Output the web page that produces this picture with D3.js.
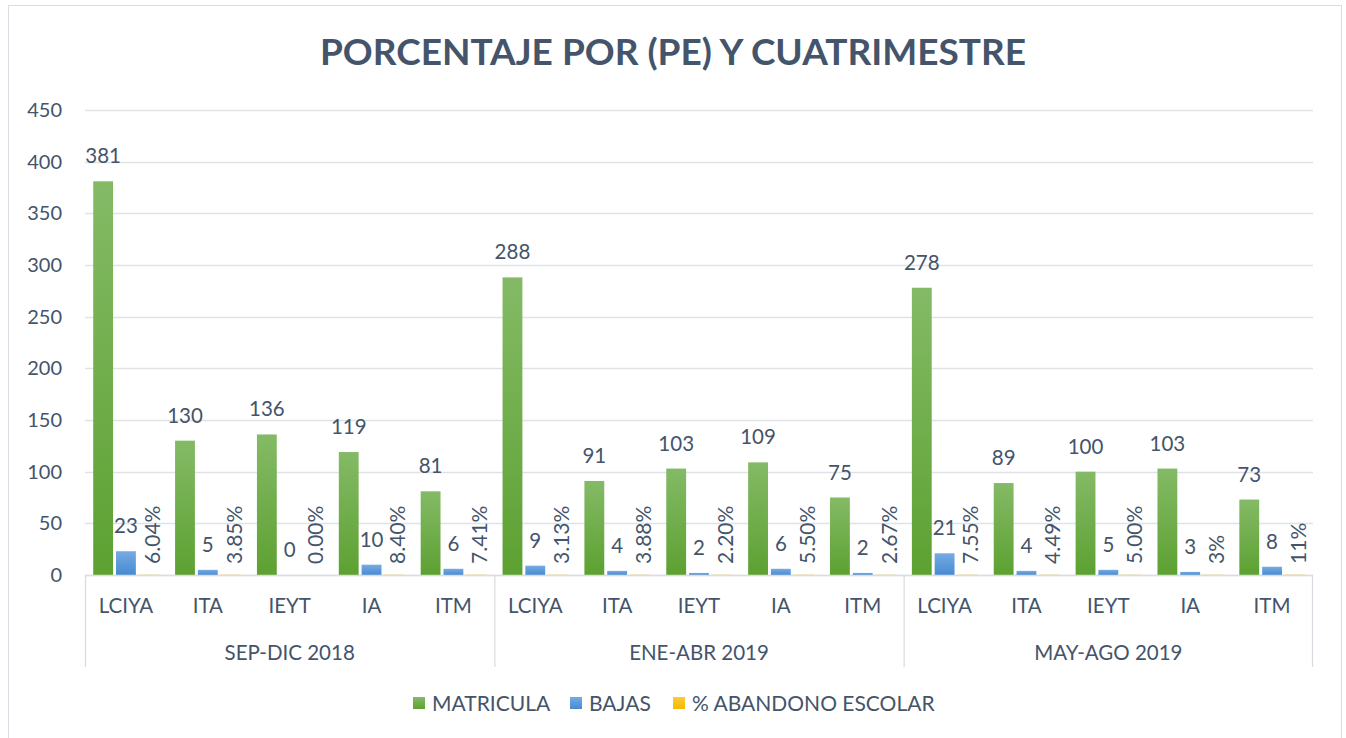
<!DOCTYPE html>
<html>
<head>
<meta charset="utf-8">
<script src="https://cdn.jsdelivr.net/npm/d3@7"></script>
<style>
  body { margin: 0; background: #fff; }
  svg text { font-family: Lato, "Open Sans", sans-serif; fill: #44546a; }
</style>
</head>
<body>
<div id="chart"></div>
<script>
// chart data
const periods = ["SEP-DIC 2018", "ENE-ABR 2019", "MAY-AGO 2019"];
const programs = ["LCIYA", "ITA", "IEYT", "IA", "ITM"];
const seriesNames = ["MATRICULA", "BAJAS", "% ABANDONO ESCOLAR"];
const matricula = [381, 130, 136, 119, 81, 288, 91, 103, 109, 75, 278, 89, 100, 103, 73];
const bajas = [23, 5, 0, 10, 6, 9, 4, 2, 6, 2, 21, 4, 5, 3, 8];
const abandono = [0.0604, 0.0385, 0, 0.084, 0.0741, 0.0313, 0.0388, 0.022, 0.055, 0.0267,
                  0.0755, 0.0449, 0.05, 0.03, 0.11];
const abandonoLabels = ["6.04%", "3.85%", "0.00%", "8.40%", "7.41%", "3.13%", "3.88%", "2.20%",
                        "5.50%", "2.67%", "7.55%", "4.49%", "5.00%", "3%", "11%"];
const yTicks = [0, 50, 100, 150, 200, 250, 300, 350, 400, 450];

const W = 1346, H = 738;
const margin = {top: 110, right: 33, bottom: 163, left: 85};
const width = W - margin.left - margin.right;
const height = H - margin.top - margin.bottom;

const svg = d3.select("#chart").append("svg")
    .attr("width", W)
    .attr("height", H);

const defs = svg.append("defs");
function addGrad(id, top, bottom) {
  const g = defs.append("linearGradient").attr("id", id)
      .attr("x1", 0).attr("y1", 0).attr("x2", 0).attr("y2", 1);
  g.append("stop").attr("offset", "0%").attr("stop-color", top);
  g.append("stop").attr("offset", "100%").attr("stop-color", bottom);
}
addGrad("gGreen", "#84ba66", "#5da131");
addGrad("gBlue", "#77abe2", "#468ad2");
addGrad("gYellow", "#ffca3a", "#f4b800");
const fills = ["url(#gGreen)", "url(#gBlue)", "url(#gYellow)"];

// outer border
svg.append("rect")
    .attr("x", 8.5).attr("y", 5.5)
    .attr("width", 1333).attr("height", 760)
    .attr("fill", "none").attr("stroke", "#d9dde3");

svg.append("text")
    .attr("x", W / 2).attr("y", 65)
    .attr("text-anchor", "middle")
    .style("font-size", "37px")
    .style("font-weight", "bold")
    .text("PORCENTAJE POR (PE) Y CUATRIMESTRE");

const g = svg.append("g")
    .attr("transform", "translate(" + margin.left + "," + margin.top + ")");

// flatten categories: period x program
const cats = [];
periods.forEach((p, pi) => programs.forEach((pr, ci) => cats.push({p: p, prog: pr, i: pi * programs.length + ci})));

const x0 = d3.scaleBand()
    .domain(cats.map(d => d.i))
    .range([0, width]);

const x1 = d3.scaleBand()
    .domain(seriesNames)
    .range([0, x0.bandwidth()])
    .paddingInner(0.13)
    .paddingOuter(0.36);

const xp = d3.scaleBand()
    .domain(periods)
    .range([0, width]);

const y = d3.scaleLinear()
    .domain([0, 450])
    .range([height, 0]);

// gridlines
g.append("g")
    .selectAll("line")
    .data(yTicks)
    .join("line")
    .attr("x1", 0).attr("x2", width)
    .attr("y1", d => Math.round(y(d)) + 0.5).attr("y2", d => Math.round(y(d)) + 0.5)
    .attr("stroke", "#dfe3e8").attr("stroke-width", 1.3);

// y axis labels
const yAxis = g.append("g")
    .call(d3.axisLeft(y).tickValues(yTicks).tickSize(0).tickPadding(23));
yAxis.select(".domain").remove();
yAxis.selectAll("text").style("font-size", "20px").attr("fill", "#44546a");

// bars
const seriesData = [matricula, bajas, abandono];
const cg = g.selectAll(".cat")
    .data(cats)
    .join("g")
    .attr("class", "cat")
    .attr("transform", d => "translate(" + x0(d.i) + ",0)");

seriesNames.forEach((s, si) => {
  cg.append("rect")
      .attr("x", x1(s))
      .attr("width", x1.bandwidth())
      .attr("y", d => y(seriesData[si][d.i]))
      .attr("height", d => height - y(seriesData[si][d.i]))
      .attr("fill", fills[si])
      .attr("stroke", d => (si == 2 && abandono[d.i] > 0) ? "#f2dd9e" : "none")
      .attr("stroke-width", 1);
});

// value labels
cg.append("text")
    .attr("x", x1("MATRICULA") + x1.bandwidth() / 2)
    .attr("y", d => y(matricula[d.i]) - 18)
    .attr("text-anchor", "middle")
    .style("font-size", "20.5px")
    .text(d => matricula[d.i]);

cg.append("text")
    .attr("x", x1("BAJAS") + x1.bandwidth() / 2)
    .attr("y", d => y(bajas[d.i]) - 18)
    .attr("text-anchor", "middle")
    .style("font-size", "20.5px")
    .text(d => bajas[d.i]);

cg.append("text")
    .attr("transform", d => "translate(" + (x1("% ABANDONO ESCOLAR") + x1.bandwidth() / 2 + 11) + "," +
          (y(abandono[d.i]) - 11) + ") rotate(-90)")
    .attr("text-anchor", "start")
    .style("font-size", "21px")
    .text(d => abandonoLabels[d.i]);

// category axis
g.append("line")
    .attr("x1", 0).attr("x2", width)
    .attr("y1", height + 0.5).attr("y2", height + 0.5)
    .attr("stroke", "#d9dde3").attr("stroke-width", 1.3);

g.append("g")
    .selectAll("line")
    .data(d3.range(periods.length + 1))
    .join("line")
    .attr("x1", d => d < periods.length ? xp(periods[d]) + 0.5 : width - 0.5)
    .attr("x2", d => d < periods.length ? xp(periods[d]) + 0.5 : width - 0.5)
    .attr("y1", height).attr("y2", height + 92)
    .attr("stroke", "#d9dde3").attr("stroke-width", 1.3);

g.append("g")
    .selectAll("text")
    .data(cats)
    .join("text")
    .attr("x", d => x0(d.i) + x0.bandwidth() / 2)
    .attr("y", height + 38)
    .attr("text-anchor", "middle")
    .style("font-size", "20.5px")
    .text(d => d.prog);

g.append("g")
    .selectAll("text")
    .data(periods)
    .join("text")
    .attr("x", d => xp(d) + xp.bandwidth() / 2)
    .attr("y", height + 85)
    .attr("text-anchor", "middle")
    .style("font-size", "20.5px")
    .text(d => d);

// legend
const legendX = [413, 570, 673];
const lg = svg.append("g").attr("transform", "translate(0,703)");
seriesNames.forEach((s, si) => {
  lg.append("rect")
      .attr("x", legendX[si]).attr("y", -6)
      .attr("width", 12).attr("height", 12)
      .attr("fill", fills[si]);
  lg.append("text")
      .attr("x", legendX[si] + 19).attr("y", 7.5)
      .style("font-size", "21px")
      .text(s);
});
</script>
</body>
</html>
